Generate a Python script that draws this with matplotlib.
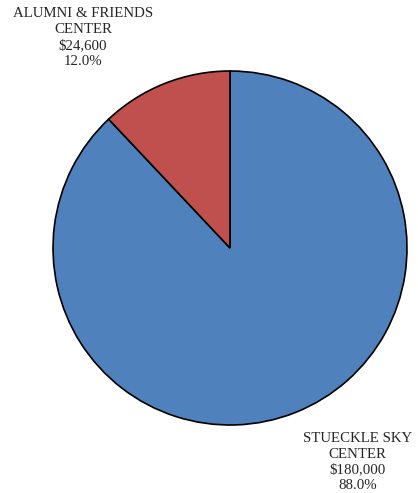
import matplotlib.pyplot as plt

# Data
centers = ["STUECKLE SKY\nCENTER", "ALUMNI & FRIENDS\nCENTER"]
amounts = [180000, 24600]
colors = ["#4F81BD", "#C0504D"]

plt.rcParams["font.family"] = ["Liberation Serif", "DejaVu Serif"]

fig = plt.figure(figsize=(4.18, 4.93), dpi=100)
ax = fig.add_axes([53 / 418, 68 / 493, 354 / 418, 354 / 493])

wedges, _ = ax.pie(amounts, colors=colors, startangle=90, counterclock=False,
                   radius=1, wedgeprops=dict(edgecolor="black", linewidth=1.2))
ax.set_xlim(-1, 1)
ax.set_ylim(-1, 1)

total = sum(amounts)
# label positions (data coords of pie)
label_pos = [(0.72, -1.21), (-0.83, 1.19)]
for name, amt, (x, y) in zip(centers, amounts, label_pos):
    txt = f"{name}\n${amt:,}\n{amt / total * 100:.1f}%"
    ax.text(x, y, txt, ha="center", va="center", fontsize=10.7,
            color="#262626", linespacing=1.28, clip_on=False)

fig.savefig("out.png", dpi=100)
